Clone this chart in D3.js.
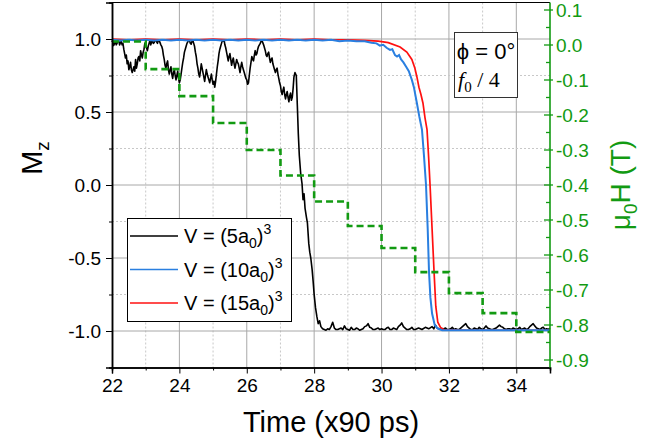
<!DOCTYPE html>
<html><head><meta charset="utf-8">
<script src="https://cdn.jsdelivr.net/npm/d3@7"></script>
<style>
body{margin:0;background:#fff}
text{font-family:"Liberation Sans",Arial,sans-serif}
</style>
</head><body>
<svg id="chart" width="665" height="443"></svg>
<script>
// ---------- DATA ----------
const xTicksMajor = [22,24,26,28,30,32,34];
const xTicksMinor = [23,25,27,29,31,33,35];
const yTicksMajor = [-1.0,-0.5,0.0,0.5,1.0];
const yTicksMinor = [-0.75,-0.25,0.25,0.75];
const hTicksMajor = [0.1,0.0,-0.1,-0.2,-0.3,-0.4,-0.5,-0.6,-0.7,-0.8,-0.9];
const hTicksMinor = [0.05,-0.05,-0.15,-0.25,-0.35,-0.45,-0.55,-0.65,-0.75,-0.85];

const legendLabels = ["5","10","15"];

// V = (5a0)^3  [time, Mz]
const series5 = [
[22.000,0.98],[22.025,0.995],[22.050,0.955],[22.075,0.97],[22.100,0.985],[22.125,0.96],[22.150,0.97],[22.175,0.995],[22.200,0.99],[22.225,0.96],
[22.250,0.975],[22.275,0.985],[22.300,0.96],[22.325,0.97],[22.350,0.93],[22.375,0.90],[22.400,0.87],[22.425,0.89],[22.450,0.83],[22.475,0.85],
[22.500,0.79],[22.525,0.81],[22.550,0.84],[22.575,0.79],[22.600,0.77],[22.625,0.79],[22.650,0.81],[22.675,0.78],[22.700,0.86],[22.725,0.80],
[22.750,0.83],[22.775,0.87],[22.800,0.88],[22.825,0.85],[22.850,0.92],[22.875,0.89],[22.900,0.87],[22.925,0.91],[22.950,0.93],[22.975,0.97],
[23.000,0.96],[23.025,0.94],[23.050,0.92],[23.075,0.95],[23.100,0.97],[23.125,0.99],[23.150,0.96],[23.175,0.98],[23.200,0.99],[23.225,0.97],
[23.250,0.975],[23.275,0.99],[23.300,0.995],[23.325,0.98],[23.350,0.97],[23.375,0.995],[23.400,0.99],[23.425,0.975],[23.450,0.96],[23.475,0.95],
[23.500,0.93],[23.525,0.89],[23.550,0.86],[23.575,0.82],[23.600,0.80],[23.625,0.83],[23.650,0.85],[23.675,0.79],[23.700,0.76],[23.725,0.79],
[23.750,0.81],[23.775,0.76],[23.800,0.73],[23.825,0.77],[23.850,0.79],[23.875,0.75],[23.900,0.72],[23.925,0.75],[23.950,0.78],[23.975,0.73],
[24.000,0.70],[24.025,0.72],[24.050,0.76],[24.075,0.80],[24.100,0.84],[24.125,0.87],[24.150,0.91],[24.175,0.93],[24.200,0.95],[24.225,0.97],
[24.250,0.98],[24.275,0.995],[24.300,0.99],[24.325,0.97],[24.350,0.965],[24.375,0.985],[24.400,0.99],[24.425,0.97],[24.450,0.95],[24.475,0.91],
[24.500,0.88],[24.525,0.83],[24.550,0.80],[24.575,0.76],[24.600,0.74],[24.625,0.78],[24.650,0.83],[24.675,0.80],[24.700,0.77],[24.725,0.74],
[24.750,0.71],[24.775,0.75],[24.800,0.79],[24.825,0.76],[24.850,0.74],[24.875,0.72],[24.900,0.70],[24.925,0.73],[24.950,0.76],[24.975,0.72],
[25.000,0.69],[25.025,0.71],[25.050,0.67],[25.075,0.71],[25.100,0.76],[25.125,0.81],[25.150,0.85],[25.175,0.90],[25.200,0.93],[25.225,0.95],
[25.250,0.97],[25.275,0.99],[25.300,0.985],[25.325,0.995],[25.350,0.96],[25.375,0.94],[25.400,0.91],[25.425,0.88],[25.450,0.85],[25.475,0.88],
[25.500,0.90],[25.525,0.86],[25.550,0.82],[25.575,0.85],[25.600,0.87],[25.625,0.83],[25.650,0.80],[25.675,0.83],[25.700,0.86],[25.725,0.84],
[25.750,0.83],[25.775,0.80],[25.800,0.77],[25.825,0.81],[25.850,0.84],[25.875,0.81],[25.900,0.79],[25.925,0.77],[25.950,0.75],[25.975,0.73],
[26.000,0.72],[26.025,0.69],[26.050,0.70],[26.075,0.75],[26.100,0.80],[26.125,0.84],[26.150,0.88],[26.175,0.86],[26.200,0.85],[26.225,0.89],
[26.250,0.92],[26.275,0.89],[26.300,0.90],[26.325,0.93],[26.350,0.95],[26.375,0.96],[26.400,0.97],[26.425,0.985],[26.450,0.99],[26.475,0.975],
[26.500,0.96],[26.525,0.94],[26.550,0.92],[26.575,0.89],[26.600,0.88],[26.625,0.90],[26.650,0.91],[26.675,0.87],[26.700,0.84],[26.725,0.86],
[26.750,0.87],[26.775,0.83],[26.800,0.81],[26.825,0.79],[26.850,0.77],[26.875,0.79],[26.900,0.80],[26.925,0.76],[26.950,0.73],[26.975,0.70],
[27.000,0.68],[27.025,0.64],[27.050,0.62],[27.075,0.65],[27.100,0.67],[27.125,0.62],[27.150,0.59],[27.175,0.62],[27.200,0.64],[27.225,0.60],
[27.250,0.57],[27.275,0.61],[27.300,0.63],[27.325,0.58],[27.350,0.60],[27.375,0.66],[27.400,0.74],[27.430,0.77],[27.470,0.75],[27.500,0.55],
[27.530,0.35],[27.560,0.20],[27.600,0.08],[27.640,0.01],[27.670,-0.10],[27.700,-0.06],[27.730,-0.16],[27.770,-0.22],[27.800,-0.26],[27.840,-0.40],
[27.870,-0.46],[27.900,-0.50],[27.940,-0.58],[27.970,-0.66],[28.000,-0.75],[28.040,-0.84],[28.080,-0.90],[28.120,-0.95],[28.160,-0.93],[28.200,-0.97],
[28.250,-0.985],[28.300,-0.99],[28.350,-0.995],[28.400,-0.985],[28.450,-0.99],[28.500,-0.97],[28.550,-0.94],[28.600,-0.98],[28.650,-0.99],[28.700,-0.99],
[28.750,-0.985],[28.800,-0.98],[28.850,-0.99],[28.900,-0.965],[28.950,-0.985],[29.000,-0.99],[29.050,-0.995],[29.100,-0.975],[29.150,-0.99],[29.200,-0.99],
[29.250,-0.98],[29.300,-0.985],[29.350,-0.995],[29.400,-0.99],[29.450,-0.985],[29.500,-0.97],[29.550,-0.965],[29.600,-0.95],[29.650,-0.975],[29.700,-0.98],
[29.750,-0.99],[29.800,-0.99],[29.850,-0.985],[29.900,-0.98],[29.950,-0.99],[30.000,-0.985],[30.050,-0.99],[30.100,-0.99],[30.150,-0.98],[30.200,-0.975],
[30.250,-0.99],[30.300,-0.99],[30.350,-0.98],[30.400,-0.985],[30.450,-0.99],[30.500,-0.97],[30.550,-0.96],[30.600,-0.945],[30.650,-0.97],[30.700,-0.98],
[30.750,-0.99],[30.800,-0.99],[30.850,-0.985],[30.900,-0.975],[30.950,-0.99],[31.000,-0.99],[31.100,-0.98],[31.200,-0.99],[31.300,-0.975],[31.400,-0.985],
[31.500,-0.97],[31.550,-0.985],[31.600,-0.96],[31.650,-0.98],[31.700,-0.985],[31.800,-0.99],[31.850,-0.985],[31.900,-0.98],[31.950,-0.99],[32.000,-0.99],
[32.050,-0.985],[32.100,-0.975],[32.150,-0.99],[32.200,-0.985],[32.250,-0.99],[32.300,-0.99],[32.350,-0.98],[32.400,-0.97],[32.450,-0.96],[32.500,-0.95],
[32.550,-0.97],[32.600,-0.98],[32.650,-0.99],[32.700,-0.99],[32.750,-0.98],[32.800,-0.985],[32.850,-0.99],[32.900,-0.975],[32.950,-0.985],[33.000,-0.99],
[33.050,-0.98],[33.100,-0.965],[33.150,-0.98],[33.200,-0.985],[33.250,-0.99],[33.300,-0.99],[33.350,-0.985],[33.400,-0.98],[33.450,-0.97],[33.500,-0.96],
[33.550,-0.97],[33.600,-0.975],[33.650,-0.985],[33.700,-0.99],[33.750,-0.985],[33.800,-0.985],[33.850,-0.99],[33.900,-0.98],[33.950,-0.985],[34.000,-0.99],
[34.050,-0.985],[34.100,-0.975],[34.150,-0.99],[34.200,-0.985],[34.250,-0.98],[34.300,-0.99],[34.350,-0.985],[34.400,-0.97],[34.450,-0.96],[34.500,-0.95],
[34.550,-0.965],[34.600,-0.98],[34.650,-0.985],[34.700,-0.99],[34.750,-0.98],[34.800,-0.975],[34.850,-0.99],[34.900,-0.985],[34.950,-0.99],[35.000,-0.98]
];

// V = (10a0)^3
const series10 = [
[22.00,0.995],[22.25,0.99],[22.50,0.995],[22.75,0.99],[23.00,0.995],[23.25,0.99],[23.50,0.995],[23.75,0.99],[24.00,0.995],[24.25,0.99],
[24.50,0.995],[24.75,0.99],[25.00,0.995],[25.25,0.99],[25.50,0.995],[25.75,0.99],[26.00,0.995],[26.25,0.99],[26.50,0.995],[26.75,0.99],
[27.00,0.995],[27.25,0.99],[27.50,0.995],[27.75,0.99],[28.00,0.995],[28.25,0.99],[28.50,0.995],[28.75,0.985],[29.00,0.99],[29.25,0.985],
[29.50,0.985],[29.70,0.975],[29.85,0.97],[29.95,0.955],[30.05,0.96],[30.15,0.94],[30.25,0.925],[30.32,0.93],[30.40,0.89],[30.46,0.88],
[30.52,0.89],[30.58,0.86],[30.65,0.84],[30.73,0.81],[30.81,0.78],[30.90,0.72],[30.96,0.67],[31.05,0.56],[31.12,0.47],[31.20,0.38],
[31.26,0.20],[31.32,0.00],[31.37,-0.30],[31.41,-0.60],[31.45,-0.77],[31.50,-0.88],[31.58,-0.96],[31.68,-0.985],[31.80,-0.995],[32.50,-0.995],
[33.00,-0.995],[33.50,-0.995],[34.00,-0.995],[34.50,-0.995],[35.00,-0.995]
];

// V = (15a0)^3
const series15 = [
[22.00,1.0],[22.50,0.995],[23.00,1.0],[23.50,0.995],[24.00,1.0],[24.50,0.995],[25.00,1.0],[25.50,0.995],[26.00,1.0],[26.50,0.995],
[27.00,1.0],[27.50,0.995],[28.00,1.0],[28.50,0.995],[29.00,0.995],[29.50,0.99],[29.90,0.985],[30.20,0.975],[30.55,0.945],[30.75,0.91],
[30.90,0.86],[30.99,0.80],[31.05,0.74],[31.11,0.67],[31.17,0.62],[31.23,0.56],[31.29,0.46],[31.35,0.38],[31.40,0.18],[31.44,0.00],
[31.50,-0.30],[31.56,-0.60],[31.61,-0.83],[31.67,-0.94],[31.75,-0.975],[31.85,-0.99],[32.50,-0.995],[33.50,-0.995],[35.00,-0.995]
];

// Applied field mu0H (T), step starting at each time
const fieldTimes = [22,23,24,25,26,27,28,29,30,31,32,33,34,35];
const fieldValues = [0.01,-0.069,-0.146,-0.223,-0.30,-0.373,-0.447,-0.517,-0.58,-0.649,-0.709,-0.766,-0.82,-0.82];

// ---------- DRAWING ----------
const svg = d3.select("#chart");
const L = 112, R = 550, T = 2.5, B = 367.5;
const GREEN = "#129a12";

const x = d3.scaleLinear().domain([22,35]).range([L,R]);
const y = d3.scaleLinear().domain([-1.25,1.25]).range([B,T]);
const yH = d3.scaleLinear().domain([-322.5/350, 42.5/350]).range([B,T]);

// grid
const grid = svg.append("g");
grid.selectAll(".vmaj").data(xTicksMajor.slice(1)).join("line")
  .attr("x1",d=>x(d)).attr("x2",d=>x(d)).attr("y1",T).attr("y2",B)
  .attr("stroke","#a8a8a8").attr("stroke-width",1);
grid.selectAll(".vmin").data(xTicksMinor.slice(0,-1)).join("line")
  .attr("x1",d=>x(d)).attr("x2",d=>x(d)).attr("y1",T).attr("y2",B)
  .attr("stroke","#c8c8c8").attr("stroke-width",1).attr("stroke-dasharray","2,2");
grid.selectAll(".hmaj").data(yTicksMajor).join("line")
  .attr("x1",L).attr("x2",R).attr("y1",d=>y(d)).attr("y2",d=>y(d))
  .attr("stroke","#a8a8a8").attr("stroke-width",1);
grid.selectAll(".hmin").data(yTicksMinor).join("line")
  .attr("x1",L).attr("x2",R).attr("y1",d=>y(d)).attr("y2",d=>y(d))
  .attr("stroke","#c8c8c8").attr("stroke-width",1).attr("stroke-dasharray","2,2");

// lines
const line = d3.line().x(d=>x(d[0])).y(d=>y(d[1]));
const plot = svg.append("g");
plot.append("path").datum(series5).attr("d",line).attr("fill","none").attr("stroke","#000").attr("stroke-width",1.6).attr("stroke-linejoin","round");
plot.append("path").datum(series15).attr("d",line).attr("fill","none").attr("stroke","#ff1010").attr("stroke-width",1.7);
plot.append("path").datum(series10).attr("d",line).attr("fill","none").attr("stroke","#2a7fe0").attr("stroke-width",2);
const fieldLine = d3.line().x((d,i)=>x(fieldTimes[i])).y(d=>yH(d)).curve(d3.curveStepAfter);
plot.append("path").datum(fieldValues).attr("d",fieldLine).attr("fill","none")
  .attr("stroke",GREEN).attr("stroke-width",2.6).attr("stroke-dasharray","7,4");

// frame
svg.append("line").attr("x1",L).attr("x2",R).attr("y1",T).attr("y2",T).attr("stroke","#000").attr("stroke-width",1.2);

// bottom axis
const fmt = d=>d.toFixed(1);
const bx = svg.append("g").attr("transform",`translate(0,${B})`);
bx.call(d3.axisBottom(x).tickValues(xTicksMajor).tickSize(6).tickPadding(5).tickFormat(d=>d));
bx.append("g").call(d3.axisBottom(x).tickValues(xTicksMinor).tickSize(3).tickFormat(""));
bx.selectAll(".domain").attr("stroke","#000").attr("stroke-width",1.5);
bx.selectAll("text").attr("font-size",19).attr("font-family","Liberation Sans, Arial, sans-serif").attr("fill","#000");

// left axis
const ly = svg.append("g").attr("transform",`translate(${L},0)`);
ly.call(d3.axisLeft(y).tickValues(yTicksMajor).tickSize(6).tickPadding(5).tickFormat(fmt));
ly.append("g").call(d3.axisLeft(y).tickValues(yTicksMinor).tickSize(3).tickFormat(""));
ly.selectAll(".domain").attr("stroke","#000").attr("stroke-width",1.5);
ly.selectAll("text").attr("font-size",19).attr("font-family","Liberation Sans, Arial, sans-serif").attr("fill","#000");

// right axis (green)
const ry = svg.append("g");
ry.append("line").attr("x1",R).attr("x2",R).attr("y1",T).attr("y2",B).attr("stroke",GREEN).attr("stroke-width",1.6);
ry.selectAll(".rmaj").data(hTicksMajor).join("line")
  .attr("x1",R-6).attr("x2",R+3).attr("y1",d=>yH(d)).attr("y2",d=>yH(d)).attr("stroke",GREEN).attr("stroke-width",1.3);
ry.selectAll(".rmin").data(hTicksMinor).join("line")
  .attr("x1",R-4).attr("x2",R).attr("y1",d=>yH(d)).attr("y2",d=>yH(d)).attr("stroke",GREEN).attr("stroke-width",1.3);
ry.selectAll(".rlab").data(hTicksMajor).join("text")
  .attr("x",R+6).attr("y",d=>yH(d)).attr("dy","0.35em").attr("font-size",19).attr("fill",GREEN)
  .text(fmt);

// axis titles
svg.append("text").attr("x",(L+R)/2).attr("y",432).attr("text-anchor","middle")
  .attr("font-size",29).text("Time (x90 ps)");
const mz = svg.append("text").attr("transform","translate(42,158) rotate(-90)").attr("text-anchor","middle").attr("font-size",29);
mz.append("tspan").text("M");
mz.append("tspan").attr("font-size",19).attr("dy",7).text("z");
const hT = svg.append("text").attr("transform","translate(630,185) rotate(-90)").attr("text-anchor","middle").attr("font-size",28).attr("fill",GREEN);
hT.append("tspan").text("μ");
hT.append("tspan").attr("font-size",19).attr("dy",7).text("0");
hT.append("tspan").attr("dy",-7).text("H (T)");

// legend
const lg = svg.append("g");
lg.append("rect").attr("x",127.5).attr("y",218.5).attr("width",164).attr("height",103)
  .attr("fill","#fff").attr("stroke","#000").attr("stroke-width",1);
const legColors = ["#000","#2a7fe0","#ff1010"];
legendLabels.forEach((lab,i)=>{
  const yy = 236 + i*33.5;
  lg.append("line").attr("x1",130).attr("x2",178).attr("y1",yy).attr("y2",yy).attr("stroke",legColors[i]).attr("stroke-width",1.3);
  const t = lg.append("text").attr("x",184).attr("y",yy+7).attr("font-size",20);
  t.append("tspan").text("V = ("+lab+"a");
  t.append("tspan").attr("font-size",14).attr("dy",5).text("0");
  t.append("tspan").attr("dy",-5).text(")");
  t.append("tspan").attr("font-size",14).attr("dy",-9).text("3");
});

// annotation box
const ab = svg.append("g");
ab.append("rect").attr("x",454.5).attr("y",32.5).attr("width",63).attr("height",65)
  .attr("fill","#fff").attr("stroke","#333").attr("stroke-width",1);
ab.append("text").attr("x",486).attr("y",59).attr("text-anchor","middle")
  .attr("font-family","Liberation Serif, Times New Roman, serif").attr("font-size",22).text("ϕ = 0°");
const ft = ab.append("text").attr("x",458).attr("y",87)
  .attr("font-family","Liberation Serif, Times New Roman, serif").attr("font-size",22);
ft.append("tspan").attr("font-style","italic").attr("font-family","Liberation Serif, Times New Roman, serif").text("f");
ft.append("tspan").attr("font-size",15).attr("dy",5).attr("font-family","Liberation Serif, Times New Roman, serif").text("0");
ft.append("tspan").attr("dy",-5).attr("font-family","Liberation Serif, Times New Roman, serif").text(" / 4");
</script>
</body></html>
